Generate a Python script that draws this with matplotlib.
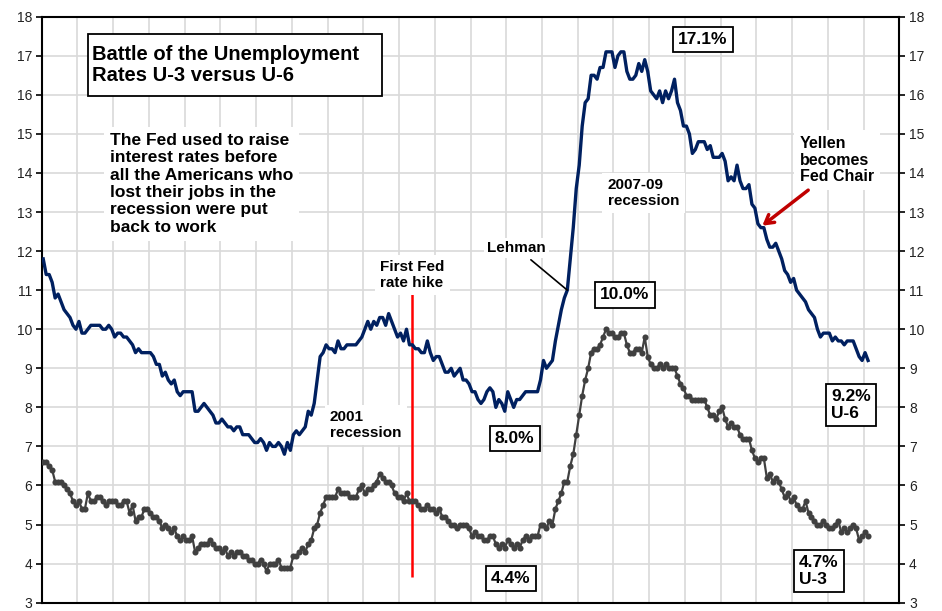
import matplotlib
matplotlib.use("Agg")
import matplotlib.pyplot as plt
from matplotlib.patches import Rectangle
import numpy as np

plt.rcParams['font.family'] = ['Liberation Sans', 'DejaVu Sans']

# Tasas mensuales, ene 1994 - feb 2017
u3 = [
    6.6, 6.6, 6.5, 6.4, 6.1, 6.1, 6.1, 6.0, 5.9, 5.8, 5.6, 5.5,  # 1994
    5.6, 5.4, 5.4, 5.8, 5.6, 5.6, 5.7, 5.7, 5.6, 5.5, 5.6, 5.6,  # 1995
    5.6, 5.5, 5.5, 5.6, 5.6, 5.3, 5.5, 5.1, 5.2, 5.2, 5.4, 5.4,  # 1996
    5.3, 5.2, 5.2, 5.1, 4.9, 5.0, 4.9, 4.8, 4.9, 4.7, 4.6, 4.7,  # 1997
    4.6, 4.6, 4.7, 4.3, 4.4, 4.5, 4.5, 4.5, 4.6, 4.5, 4.4, 4.4,  # 1998
    4.3, 4.4, 4.2, 4.3, 4.2, 4.3, 4.3, 4.2, 4.2, 4.1, 4.1, 4.0,  # 1999
    4.0, 4.1, 4.0, 3.8, 4.0, 4.0, 4.0, 4.1, 3.9, 3.9, 3.9, 3.9,  # 2000
    4.2, 4.2, 4.3, 4.4, 4.3, 4.5, 4.6, 4.9, 5.0, 5.3, 5.5, 5.7,  # 2001
    5.7, 5.7, 5.7, 5.9, 5.8, 5.8, 5.8, 5.7, 5.7, 5.7, 5.9, 6.0,  # 2002
    5.8, 5.9, 5.9, 6.0, 6.1, 6.3, 6.2, 6.1, 6.1, 6.0, 5.8, 5.7,  # 2003
    5.7, 5.6, 5.8, 5.6, 5.6, 5.6, 5.5, 5.4, 5.4, 5.5, 5.4, 5.4,  # 2004
    5.3, 5.4, 5.2, 5.2, 5.1, 5.0, 5.0, 4.9, 5.0, 5.0, 5.0, 4.9,  # 2005
    4.7, 4.8, 4.7, 4.7, 4.6, 4.6, 4.7, 4.7, 4.5, 4.4, 4.5, 4.4,  # 2006
    4.6, 4.5, 4.4, 4.5, 4.4, 4.6, 4.7, 4.6, 4.7, 4.7, 4.7, 5.0,  # 2007
    5.0, 4.9, 5.1, 5.0, 5.4, 5.6, 5.8, 6.1, 6.1, 6.5, 6.8, 7.3,  # 2008
    7.8, 8.3, 8.7, 9.0, 9.4, 9.5, 9.5, 9.6, 9.8, 10.0, 9.9, 9.9,  # 2009
    9.8, 9.8, 9.9, 9.9, 9.6, 9.4, 9.4, 9.5, 9.5, 9.4, 9.8, 9.3,  # 2010
    9.1, 9.0, 9.0, 9.1, 9.0, 9.1, 9.0, 9.0, 9.0, 8.8, 8.6, 8.5,  # 2011
    8.3, 8.3, 8.2, 8.2, 8.2, 8.2, 8.2, 8.0, 7.8, 7.8, 7.7, 7.9,  # 2012
    8.0, 7.7, 7.5, 7.6, 7.5, 7.5, 7.3, 7.2, 7.2, 7.2, 6.9, 6.7,  # 2013
    6.6, 6.7, 6.7, 6.2, 6.3, 6.1, 6.2, 6.1, 5.9, 5.7, 5.8, 5.6,  # 2014
    5.7, 5.5, 5.4, 5.4, 5.6, 5.3, 5.2, 5.1, 5.0, 5.0, 5.1, 5.0,  # 2015
    4.9, 4.9, 5.0, 5.1, 4.8, 4.9, 4.8, 4.9, 5.0, 4.9, 4.6, 4.7,  # 2016
    4.8, 4.7,  # 2017
]

u6 = [
    11.8, 11.4, 11.4, 11.2, 10.8, 10.9, 10.7, 10.5, 10.4, 10.3, 10.1, 10.0,  # 1994
    10.2, 9.9, 9.9, 10.0, 10.1, 10.1, 10.1, 10.1, 10.0, 10.0, 10.1, 10.0,  # 1995
    9.8, 9.9, 9.9, 9.8, 9.8, 9.7, 9.6, 9.4, 9.5, 9.4, 9.4, 9.4,  # 1996
    9.4, 9.3, 9.1, 9.1, 8.8, 8.9, 8.7, 8.6, 8.7, 8.4, 8.3, 8.4,  # 1997
    8.4, 8.4, 8.4, 7.9, 7.9, 8.0, 8.1, 8.0, 7.9, 7.8, 7.6, 7.6,  # 1998
    7.7, 7.6, 7.5, 7.5, 7.4, 7.5, 7.5, 7.3, 7.3, 7.3, 7.2, 7.1,  # 1999
    7.1, 7.2, 7.1, 6.9, 7.1, 7.0, 7.0, 7.1, 7.0, 6.8, 7.1, 6.9,  # 2000
    7.3, 7.4, 7.3, 7.4, 7.5, 7.9, 7.8, 8.1, 8.7, 9.3, 9.4, 9.6,  # 2001
    9.5, 9.5, 9.4, 9.7, 9.5, 9.5, 9.6, 9.6, 9.6, 9.6, 9.7, 9.8,  # 2002
    10.0, 10.2, 10.0, 10.2, 10.1, 10.3, 10.3, 10.1, 10.4, 10.2, 10.0, 9.8,  # 2003
    9.9, 9.7, 10.0, 9.6, 9.6, 9.5, 9.5, 9.4, 9.4, 9.7, 9.4, 9.2,  # 2004
    9.3, 9.3, 9.1, 8.9, 8.9, 9.0, 8.8, 8.9, 9.0, 8.7, 8.7, 8.6,  # 2005
    8.4, 8.4, 8.2, 8.1, 8.2, 8.4, 8.5, 8.4, 8.0, 8.2, 8.1, 7.9,  # 2006
    8.4, 8.2, 8.0, 8.2, 8.2, 8.3, 8.4, 8.4, 8.4, 8.4, 8.4, 8.7,  # 2007
    9.2, 9.0, 9.1, 9.2, 9.7, 10.1, 10.5, 10.8, 11.0, 11.8, 12.6, 13.6,  # 2008
    14.2, 15.2, 15.8, 15.9, 16.5, 16.5, 16.4, 16.7, 16.7, 17.1, 17.1, 17.1,  # 2009
    16.7, 17.0, 17.1, 17.1, 16.6, 16.4, 16.4, 16.5, 16.8, 16.6, 16.9, 16.6,  # 2010
    16.1, 16.0, 15.9, 16.1, 15.8, 16.1, 15.9, 16.1, 16.4, 15.8, 15.6, 15.2,  # 2011
    15.2, 15.0, 14.5, 14.6, 14.8, 14.8, 14.8, 14.6, 14.7, 14.4, 14.4, 14.4,  # 2012
    14.5, 14.3, 13.8, 13.9, 13.8, 14.2, 13.8, 13.6, 13.6, 13.7, 13.2, 13.1,  # 2013
    12.7, 12.6, 12.6, 12.3, 12.1, 12.1, 12.2, 12.0, 11.8, 11.5, 11.4, 11.2,  # 2014
    11.3, 11.0, 10.9, 10.8, 10.7, 10.5, 10.4, 10.3, 10.0, 9.8, 9.9, 9.9,  # 2015
    9.9, 9.7, 9.8, 9.7, 9.7, 9.6, 9.7, 9.7, 9.7, 9.5, 9.3, 9.2,  # 2016
    9.4, 9.2,  # 2017
]

meses = np.arange(len(u3))
n_cat = 24 * 12          # 1994..2017, una categoria por mes
idx_hike = 124           # mediados de 2004
idx_lehman = 176         # sep 2008
idx_yellen = 241         # feb 2014

azul = "#002060"
gris = "#404040"
rojo = "#c00000"

fig = plt.figure(figsize=(9.42, 6.11), dpi=100)
ax = fig.add_axes([0.0443, 0.0136, 0.9104, 0.9591])

ax.plot(meses, u6, color=azul, linewidth=2.4, zorder=4)
ax.plot(meses, u3, color=gris, linewidth=1.6, marker="o", markersize=4.4,
        markeredgewidth=0, zorder=4)

# Primera suba de tasas
ax.vlines(idx_hike, 3.65, 11.0, color="red", linewidth=1.8, zorder=3)

ax.set_xlim(-0.5, n_cat - 0.5)
ax.set_ylim(3, 18)
ax.set_xticks(np.arange(-0.5, n_cat, 12))
ax.set_xticklabels([])
ax.set_yticks(np.arange(3, 19, 1))
ax.tick_params(axis="x", length=0)
ax.tick_params(axis="y", direction="out", length=4, width=1.2, pad=3,
               labelsize=10, labelcolor="#222222", left=True, right=True,
               labelleft=True, labelright=True)
ax.grid(True, color="#d9d9d9", linewidth=1.2, zorder=0)
ax.set_axisbelow(True)
for s in ax.spines.values():
    s.set_linewidth(1.5)
    s.set_color("black")

# Titulo en recuadro
ax.add_patch(Rectangle((0.0543, 0.8652), 0.3429, 0.1058, transform=ax.transAxes,
                       facecolor="white", edgecolor="black", linewidth=1.3, zorder=5))
ax.text(0.0588, 0.918, "Battle of the Unemployment\nRates U-3 versus U-6",
        transform=ax.transAxes, ha="left", va="center", fontsize=14.5,
        fontweight="bold", linespacing=1.15, zorder=6)

blanco = dict(boxstyle="square,pad=0.35", facecolor="white", edgecolor="none")
ax.text(22.4, 13.72, "The Fed used to raise\ninterest rates before\nall the Americans who\n"
        "lost their jobs in the\nrecession were put\nback to work",
        ha="left", va="center", fontsize=12.5, fontweight="bold",
        linespacing=1.2, bbox=blanco, zorder=6)

ax.text(113.1, 11.39, "First Fed\nrate hike", ha="left", va="center", fontsize=11,
        fontweight="bold", linespacing=1.15, bbox=blanco, zorder=6)
ax.text(96.3, 7.55, "2001\nrecession", ha="left", va="center", fontsize=11,
        fontweight="bold", linespacing=1.15, bbox=blanco, zorder=6)
ax.text(189.6, 13.49, "2007-09\nrecession", ha="left", va="center", fontsize=11,
        fontweight="bold", linespacing=1.15, bbox=blanco, zorder=6)
ax.text(254.1, 14.33, "Yellen\nbecomes\nFed Chair", ha="left", va="center",
        fontsize=11.5, fontweight="bold", linespacing=1.15, bbox=blanco, zorder=6)

ax.annotate("Lehman", xy=(idx_lehman, u6[idx_lehman]), xytext=(159, 12.08),
            ha="center", va="center", fontsize=11, fontweight="bold",
            bbox=dict(boxstyle="square,pad=0.2", facecolor="white", edgecolor="none"),
            arrowprops=dict(arrowstyle="-", color="black", linewidth=1.2,
                            shrinkA=2, shrinkB=0), zorder=6)

ax.annotate("", xy=(idx_yellen + 0.5, u6[idx_yellen] + 0.05), xytext=(256.9, 13.56),
            arrowprops=dict(arrowstyle="->,head_length=0.6,head_width=0.35",
                            color=rojo, linewidth=2.5, shrinkA=0, shrinkB=0),
            zorder=6)

caja = dict(boxstyle="square,pad=0.3", facecolor="white", edgecolor="black",
            linewidth=1.3)
etiquetas = [
    ("17.1%", 221.6, 17.42),
    ("10.0%", 195.3, 10.88),
    ("8.0%", 158.3, 7.21),
    ("4.4%", 157.1, 3.62),
    ("9.2%\nU-6", 271.2, 8.06),
    ("4.7%\nU-3", 260.4, 3.82),
]
for txt, x, y in etiquetas:
    ax.text(x, y, txt, ha="center", va="center", fontsize=12.5, fontweight="bold",
            linespacing=1.15, multialignment="left", bbox=caja, zorder=6)

fig.savefig("out.png", dpi=100)
